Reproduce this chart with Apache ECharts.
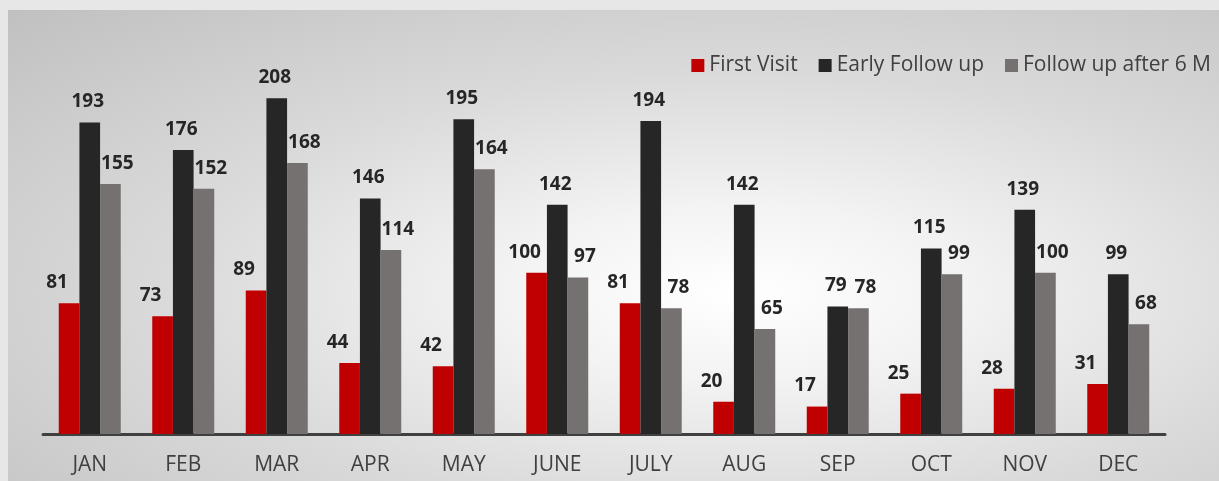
<!DOCTYPE html>
<html>
<head>
<meta charset="utf-8">
<script src="https://cdn.jsdelivr.net/npm/echarts@6/dist/echarts.min.js"></script>
<style>
  html, body { margin: 0; padding: 0; background: #e7e7e7; }
  .wrap { position: relative; width: 1219px; height: 481px; overflow: hidden; }
  .panel {
    position: absolute; left: 8px; top: 10px; width: 1211px; height: 471px;
    background: radial-gradient(ellipse farthest-corner at 60% 60%, #ffffff 0%, #f3f3f3 22%, #dadada 55%, #c0c0c0 100%);
  }
  #chart { position: absolute; left: 0; top: 0; width: 1219px; height: 481px; }
</style>
</head>
<body>
<div class="wrap">
  <div class="panel"></div>
  <div id="chart"></div>
</div>
<script>
// 月份
const months = ['JAN', 'FEB', 'MAR', 'APR', 'MAY', 'JUNE', 'JULY', 'AUG', 'SEP', 'OCT', 'NOV', 'DEC'];
const seriesNames = ['First Visit', 'Early Follow up', 'Follow up after 6 M'];
const firstVisit = [81, 73, 89, 44, 42, 100, 81, 20, 17, 25, 28, 31];
const earlyFollow = [193, 176, 208, 146, 195, 142, 194, 142, 79, 115, 139, 99];
const followAfter6 = [155, 152, 168, 114, 164, 97, 78, 65, 78, 99, 100, 68];

const colors = ['#c00000', '#262626', '#767171'];
const labelShift = [-12, -2, 7];
const FONT = '"Open Sans", "Noto Sans", sans-serif';

const chart = echarts.init(document.getElementById('chart'));

function barSeries(i, data) {
  return {
    name: seriesNames[i], type: 'bar', data,
    barGap: '0%', barCategoryGap: '33.7%',
    itemStyle: { color: colors[i] },
    label: {
      show: true, position: 'top', distance: 11,
      offset: [labelShift[i], 0],
      color: '#262626', fontFamily: FONT, fontWeight: 'bold', fontSize: 19,
    },
  };
}

chart.setOption({
  backgroundColor: 'transparent',
  animation: false,
  legend: {
    right: 8, top: 55, padding: 0,
    itemWidth: 13, itemHeight: 13, itemGap: 21,
    icon: 'rect',
    textStyle: { color: '#404040', fontFamily: FONT, fontSize: 21 },
    data: seriesNames,
  },
  grid: { left: 43, right: 54, top: 79, bottom: 47 },
  xAxis: {
    type: 'category', data: months,
    axisLine: { lineStyle: { color: '#404040', width: 3 } },
    axisTick: { show: false },
    axisLabel: { color: '#404040', fontFamily: FONT, fontSize: 21, margin: 21 },
  },
  yAxis: {
    type: 'value', min: 0, max: 220, show: false,
    splitLine: { show: false },
  },
  series: [
    barSeries(0, firstVisit),
    barSeries(1, earlyFollow),
    barSeries(2, followAfter6),
  ],
});
</script>
</body>
</html>
